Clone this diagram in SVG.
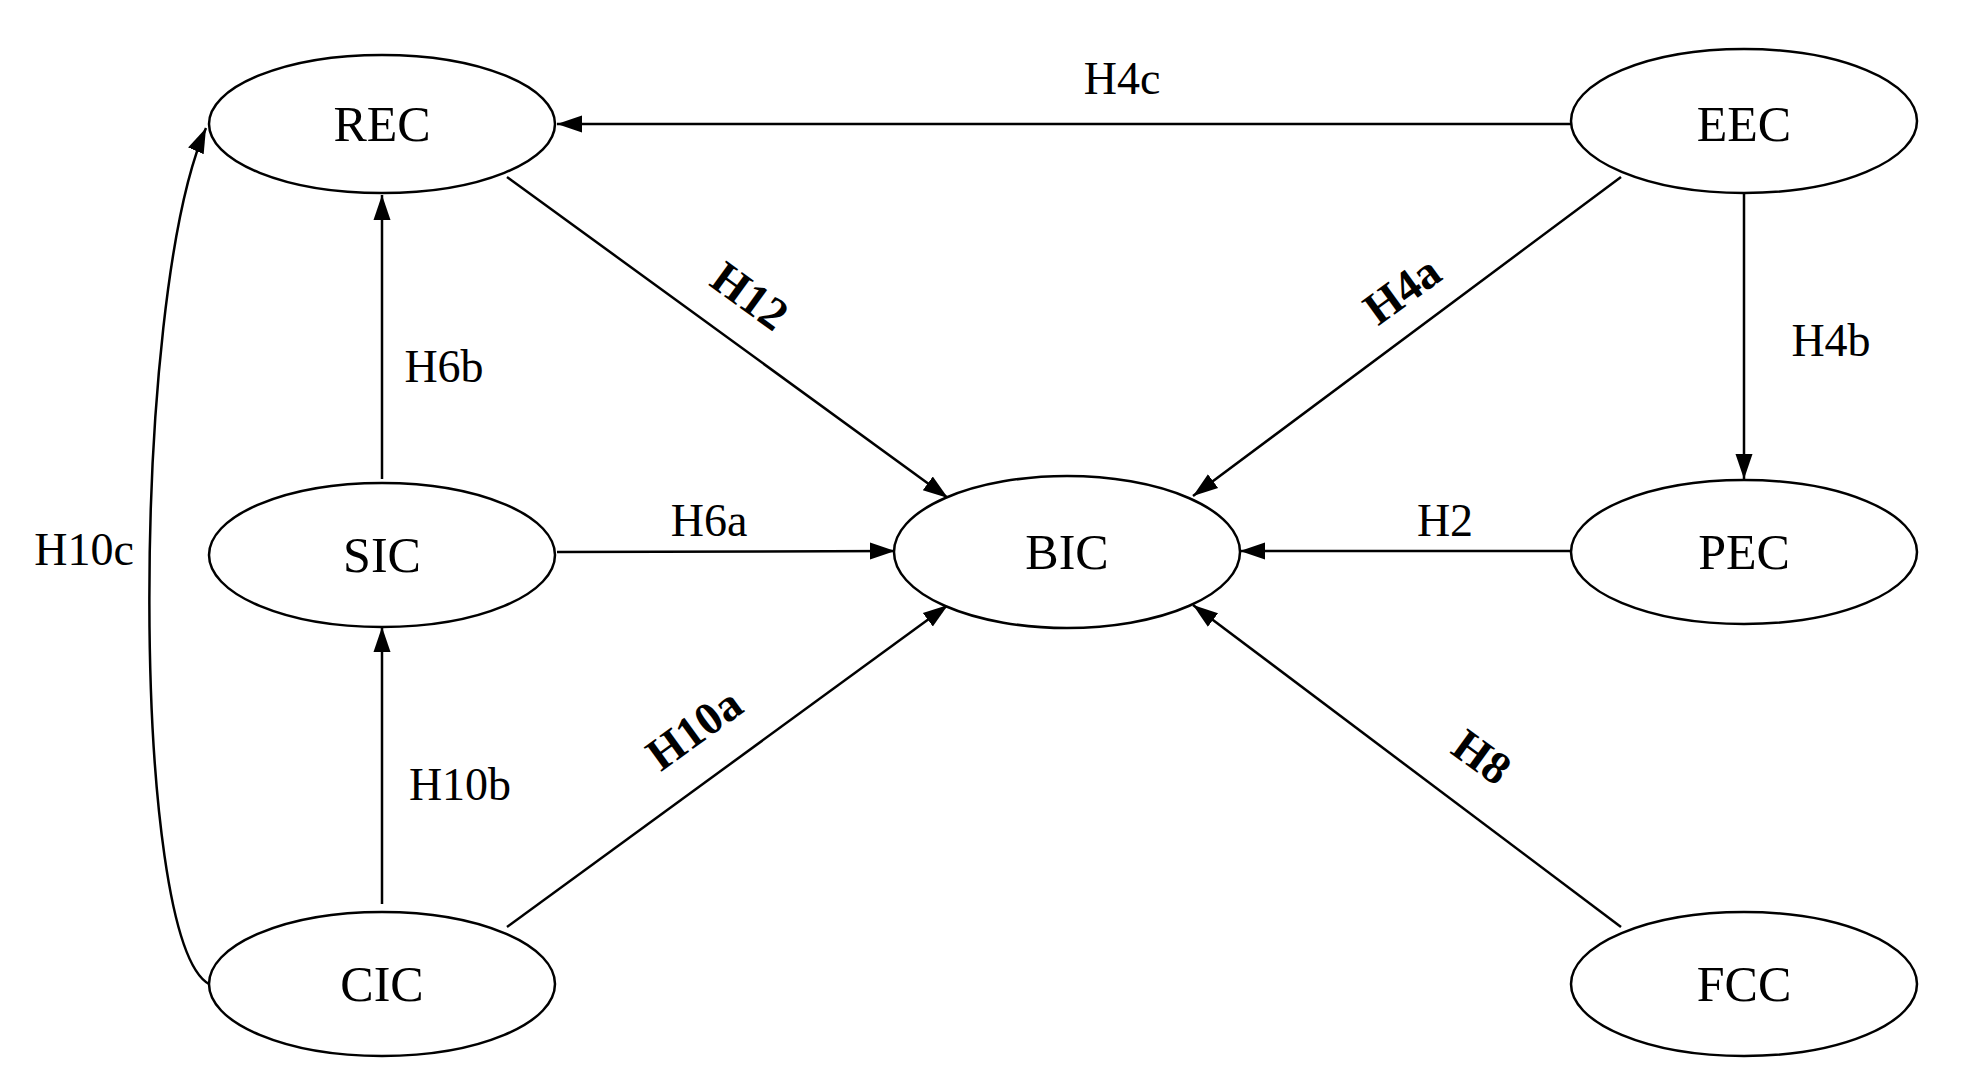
<svg xmlns="http://www.w3.org/2000/svg" width="1967" height="1091" viewBox="0 0 1967 1091">
<style>
ellipse{fill:#fff;stroke:#000;stroke-width:2.5}
text{font-family:"Liberation Serif","Times New Roman",serif;fill:#000;text-anchor:middle;dominant-baseline:central}
.n{font-size:50px}
.l{font-size:46px}
.b{font-weight:bold}
#edges path{fill:none;stroke:#000;stroke-width:2.5;marker-end:url(#a)}
</style>
<defs><marker id="a" viewBox="0 0 10 10" refX="10" refY="5" markerWidth="25" markerHeight="25" markerUnits="userSpaceOnUse" orient="auto"><path d="M0,1.6L10,5L0,8.4z" fill="#000"/></marker></defs>
<rect width="1967" height="1091" fill="#fff"/>
<g id="edges">
<path d="M1571,124L557,124"/>
<path d="M507,177L948,498"/>
<path d="M1621,177L1193,496"/>
<path d="M1744,192L1744,479"/>
<path d="M557,552L895,551"/>
<path d="M1570,551L1240,551"/>
<path d="M507,927L948,605"/>
<path d="M1621,927L1193,605"/>
<path d="M382,479L382,195"/>
<path d="M382,904L382,627"/>
<path d="M209,984C130,940 130,300 206,128"/>
</g>
<g id="labels">
<text class="l" x="1122" y="78">H4c</text>
<text class="l b" x="750" y="296" transform="rotate(36 750 296)">H12</text>
<text class="l b" x="1402" y="290" transform="rotate(-36 1402 290)">H4a</text>
<text class="l" x="1831" y="340">H4b</text>
<text class="l" x="444" y="366">H6b</text>
<text class="l" x="709" y="520">H6a</text>
<text class="l" x="1445" y="520">H2</text>
<text class="l" x="84" y="549">H10c</text>
<text class="l" x="460" y="784">H10b</text>
<text class="l b" x="694" y="729" transform="rotate(-36 694 729)">H10a</text>
<text class="l b" x="1482" y="757" transform="rotate(36 1482 757)">H8</text>
</g>
<g id="REC"><ellipse cx="382" cy="124" rx="173" ry="69"/><text class="n" x="382" y="124">REC</text></g>
<g id="EEC"><ellipse cx="1744" cy="121" rx="173" ry="72"/><text class="n" x="1744" y="124">EEC</text></g>
<g id="SIC"><ellipse cx="382" cy="555" rx="173" ry="72"/><text class="n" x="382" y="555">SIC</text></g>
<g id="BIC"><ellipse cx="1067" cy="552" rx="173" ry="76"/><text class="n" x="1067" y="552">BIC</text></g>
<g id="PEC"><ellipse cx="1744" cy="552" rx="173" ry="72"/><text class="n" x="1744" y="552">PEC</text></g>
<g id="CIC"><ellipse cx="382" cy="984" rx="173" ry="72"/><text class="n" x="382" y="984">CIC</text></g>
<g id="FCC"><ellipse cx="1744" cy="984" rx="173" ry="72"/><text class="n" x="1744" y="984">FCC</text></g>
</svg>
